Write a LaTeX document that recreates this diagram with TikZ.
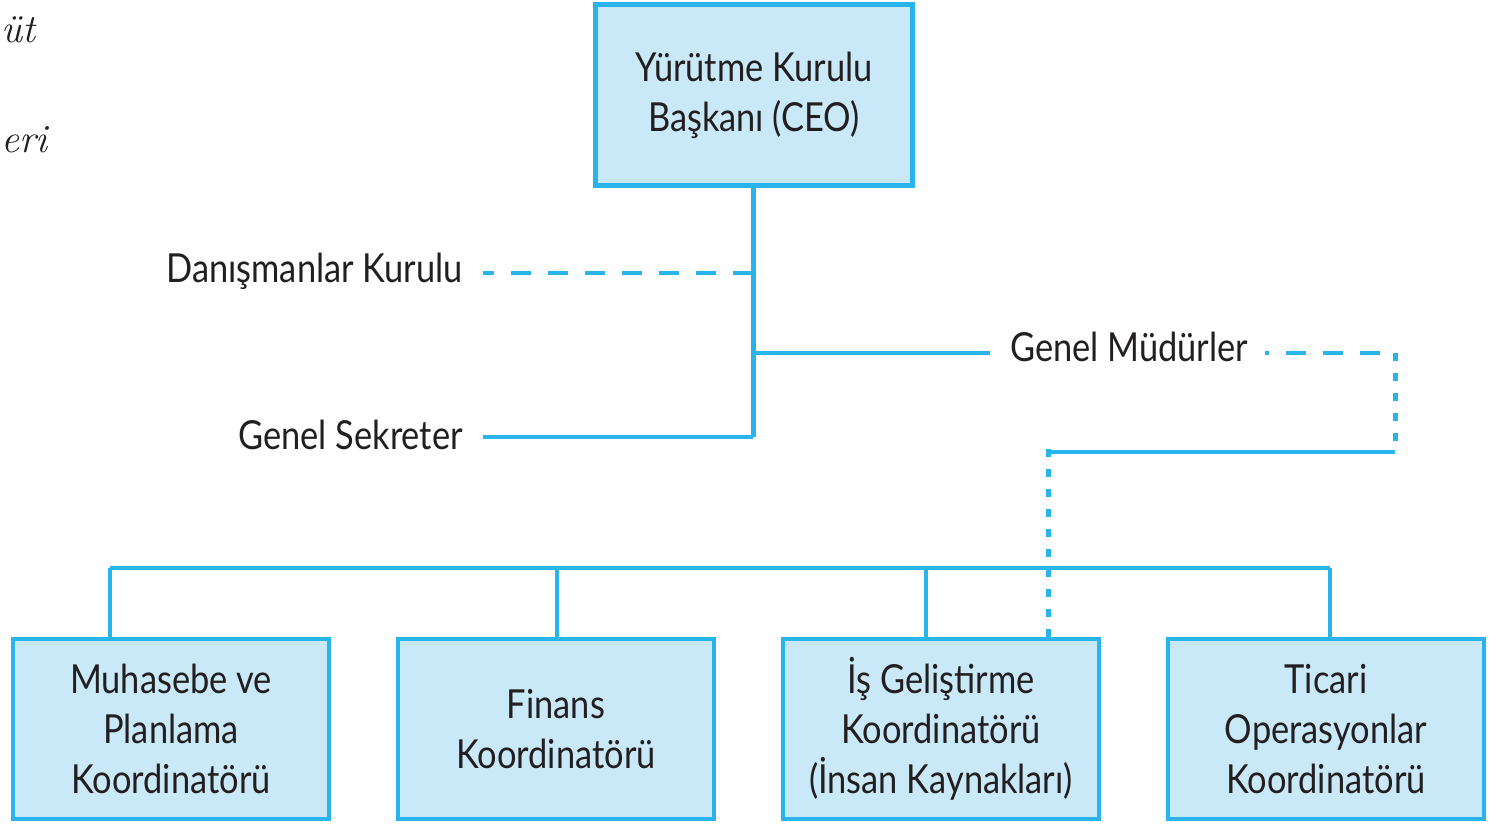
\documentclass[tikz,border=0pt]{standalone}
\usepackage{fontspec}
\setmainfont{Lato}[FakeStretch=0.86]
\newfontfamily\serifit{Latin Modern Roman}
\definecolor{lineblue}{HTML}{29B5EC}
\definecolor{boxfill}{HTML}{C9E9F8}
\definecolor{txt}{HTML}{231F20}
\tikzset{
  orgbox/.style={draw=lineblue, fill=boxfill, line width=4.5pt, minimum width=316pt, minimum height=180pt, align=center, text=txt, font=\fontsize{40}{50}\selectfont, inner sep=0pt},
  lbl/.style={text=txt, font=\fontsize{40}{50}\selectfont, inner sep=0pt},
  cutlbl/.style={text=txt, font=\fontsize{40}{48}\selectfont\serifit\itshape, inner sep=0pt},
  solidln/.style={draw=lineblue, line width=4pt},
  dashln/.style={draw=lineblue, line width=4pt, dash pattern=on 20pt off 17pt},
  dotln/.style={draw=lineblue, line width=5pt, dash pattern=on 8pt off 12pt}
}
\begin{document}
\begin{tikzpicture}[x=1pt,y=-1pt]
\useasboundingbox (0,0) rectangle (1498,824);
\node[cutlbl, anchor=base west] (cut1) at (1,43) {üt};
\node[cutlbl, anchor=base west] (cut2) at (1,153) {eri};

\node[orgbox, minimum width=317pt, minimum height=181pt] (ceo) at (754,95) {Yürütme Kurulu\\Başkanı (CEO)};

\node[orgbox] (b1) at (171,729) {Muhasebe ve\\Planlama\\Koordinatörü};
\node[orgbox] (b2) at (556,729) {Finans\\Koordinatörü};
\node[orgbox] (b3) at (941,729) {İş Geliştirme\\Koordinatörü\\(İnsan Kaynakları)};
\node[orgbox] (b4) at (1326,729) {Ticari\\Operasyonlar\\Koordinatörü};

\node[lbl, anchor=east] (dan) at (463,271) {Danışmanlar Kurulu};
\node[lbl, anchor=east] (gs) at (463,435) {Genel Sekreter};
\node[lbl, anchor=west] (gm) at (1010,347) {Genel Müdürler};

\coordinate (v1) at (753,273);
\coordinate (v2) at (753,353);
\coordinate (v3) at (753,437);
\coordinate (s1) at (483,437);
\coordinate (d1) at (483,273);
\coordinate (g1) at (990,353);
\coordinate (g2) at (1265,353);
\coordinate (c1) at (1395,353);
\coordinate (c2) at (1395,452);
\coordinate (c3) at (1048,452);
\coordinate (c4) at (1048,437);
\coordinate (bus1) at (110,568);
\coordinate (bus2) at (1330,568);

\draw[solidln, line width=5pt] (ceo.south -| v1) -- (v3);
\draw[solidln] (v3) -- (s1);
\draw[dashln] (v1) -- (d1);
\draw[solidln] (v2) -- (g1);
\draw[dashln, dash phase=16pt] (g2) -- (c1);
\draw[dotln] (c1) -- (c2);
\draw[solidln] (c2) -- (c3);
\draw[dotln] (c4 |- b3.north) -- (c4);

\draw[solidln] (bus1) -- (bus2);
\draw[solidln] (bus1) -- (bus1 |- b1.north);
\draw[solidln] (557,568) -- (557,637);
\draw[solidln] (926,568) -- (926,637);
\draw[solidln] (bus2) -- (bus2 |- b4.north);
\end{tikzpicture}
\end{document}
